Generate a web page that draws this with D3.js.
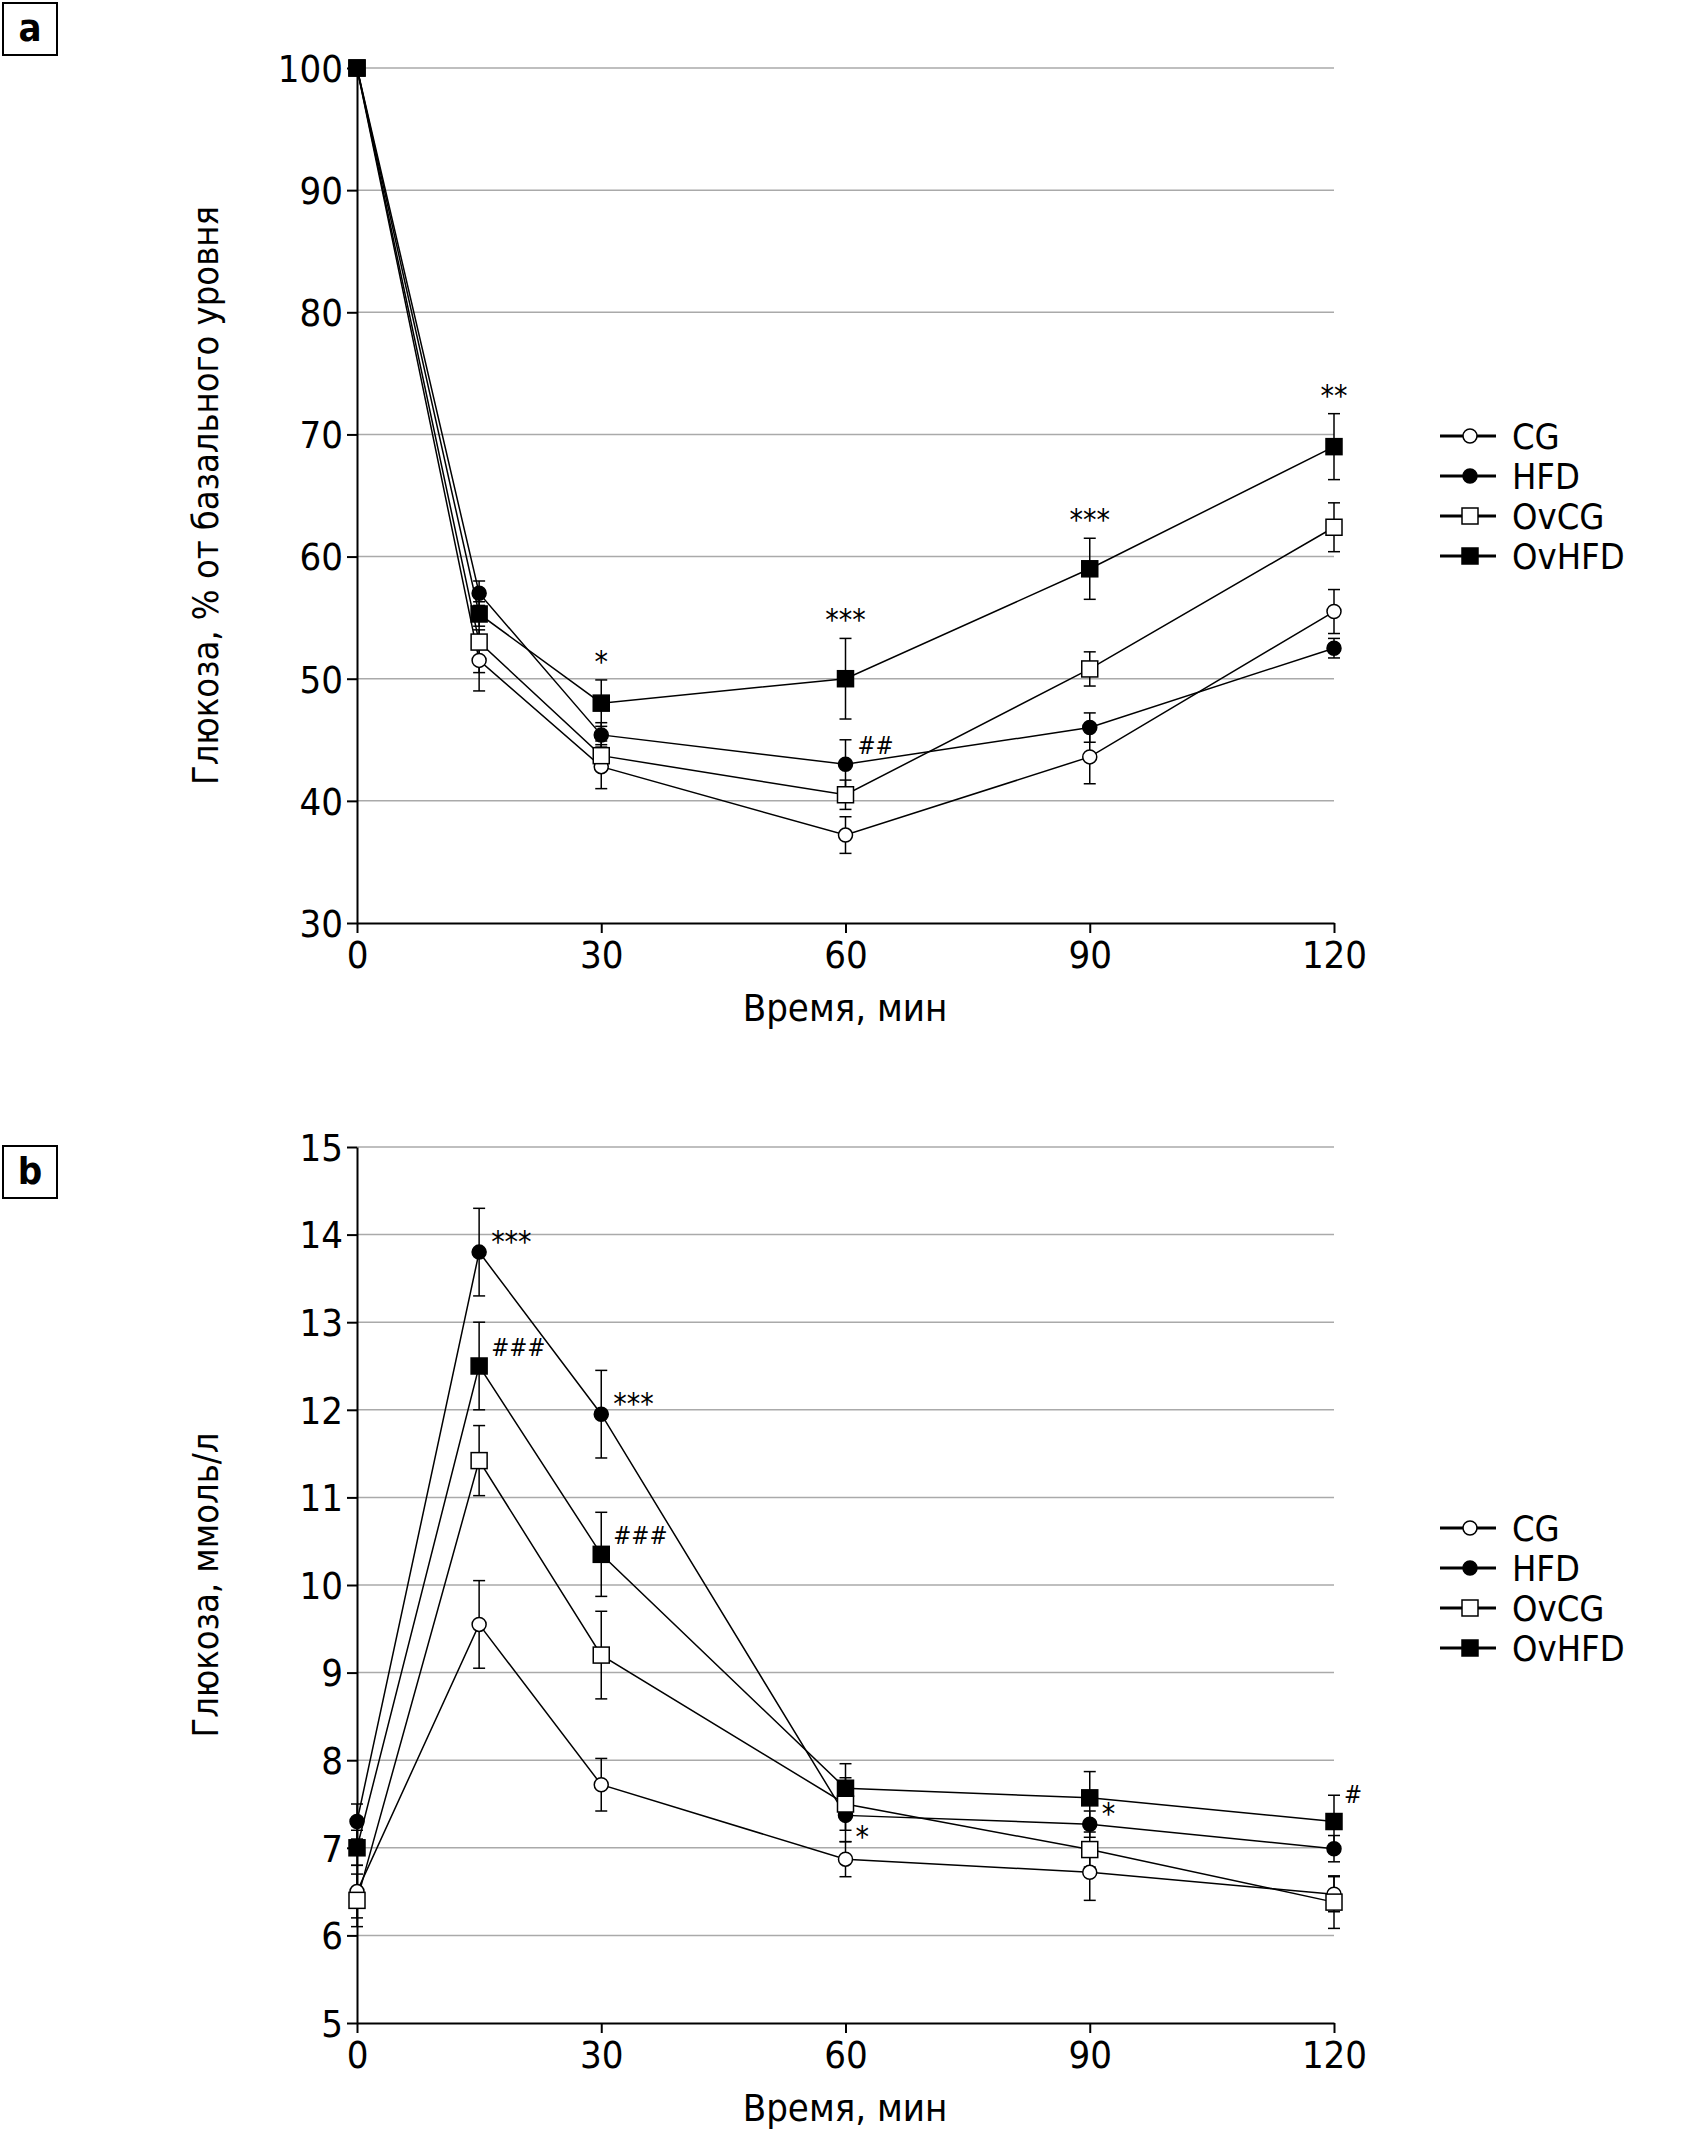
<!DOCTYPE html>
<html><head><meta charset="utf-8">
<script src="https://cdn.jsdelivr.net/npm/d3@7"></script>
<style>
body{margin:0;background:#fff}
text{font-family:"Liberation Sans Narrow","DejaVu Sans Condensed",sans-serif;fill:#000}
</style></head><body>
<svg id="c" width="1684" height="2138"></svg>
<script>
var times = [0, 15, 30, 60, 90, 120];
var groups = ["CG", "HFD", "OvCG", "OvHFD"];
var xTicks = [0, 30, 60, 90, 120];

// panel a: % of basal level
var aCG = [100, 51.5, 42.8, 37.2, 43.6, 55.5];
var aHFD = [100, 57, 45.4, 43, 46, 52.5];
var aOvCG = [100, 53, 43.7, 40.5, 50.8, 62.4];
var aOvHFD = [100, 55.3, 48, 50, 59, 69];
var aErrCG = [0, 2.5, 1.8, 1.5, 2.2, 1.8];
var aErrHFD = [0, 1, 1, 2, 1.2, 0.8];
var aErrOvCG = [0, 2.5, 1.2, 1.2, 1.4, 2];
var aErrOvHFD = [0, 1, 1.9, 3.3, 2.5, 2.7];
var aTicks = [30, 40, 50, 60, 70, 80, 90, 100];
var aMarks = [["OvHFD", 30, "*", "top"], ["OvHFD", 60, "***", "top"], ["HFD", 60, "##", "right"],
              ["OvHFD", 90, "***", "top"], ["OvHFD", 120, "**", "top"]];

// panel b: mmol/l
var bCG = [6.5, 9.55, 7.72, 6.87, 6.72, 6.47];
var bHFD = [7.3, 13.8, 11.95, 7.37, 7.27, 6.99];
var bOvCG = [6.4, 11.42, 9.2, 7.5, 6.98, 6.38];
var bOvHFD = [7.0, 12.5, 10.35, 7.68, 7.57, 7.3];
var bErrCG = [0.3, 0.5, 0.3, 0.2, 0.32, 0.2];
var bErrHFD = [0.2, 0.5, 0.5, 0.3, 0.15, 0.15];
var bErrOvCG = [0.3, 0.4, 0.5, 0.3, 0.2, 0.3];
var bErrOvHFD = [0.2, 0.5, 0.48, 0.28, 0.3, 0.3];
var bTicks = [5, 6, 7, 8, 9, 10, 11, 12, 13, 14, 15];
var bMarks = [["HFD", 15, "***", "right"], ["OvHFD", 15, "###", "right"], ["HFD", 30, "***", "right"],
              ["OvHFD", 30, "###", "right"], ["HFD", 60, "*", "below"], ["HFD", 90, "*", "right"],
              ["OvHFD", 120, "#", "topright"]];

var svg = d3.select("#c");

function marker(g, name, x, y) {
  if (name == "CG" || name == "HFD") {
    g.append("circle").attr("cx", x).attr("cy", y).attr("r", 7)
      .attr("fill", name == "CG" ? "#fff" : "#000").attr("stroke", "#000").attr("stroke-width", 1.5);
  } else {
    g.append("rect").attr("x", x - 8).attr("y", y - 8).attr("width", 16).attr("height", 16)
      .attr("fill", name == "OvCG" ? "#fff" : "#000").attr("stroke", "#000").attr("stroke-width", 1.5);
  }
}

function panel(label, top, bottom, boxY, domain, ticks, series, errs, marks, ylabel, legendY) {
  var x = d3.scaleLinear().domain([0, 120]).range([357, 1334]);
  var y = d3.scaleLinear().domain(domain).range([bottom, top]);
  var g = svg.append("g");

  // grid
  g.selectAll(".grid").data(ticks.slice(1)).join("line")
    .attr("x1", 357).attr("x2", 1334).attr("y1", d => y(d)).attr("y2", d => y(d))
    .attr("stroke", "#aaa").attr("stroke-width", 1.5);

  var ya = g.append("g").attr("transform", "translate(357,0)")
    .call(d3.axisLeft(y).tickValues(ticks).tickSize(10).tickSizeOuter(0));
  var xa = g.append("g").attr("transform", "translate(0," + bottom + ")")
    .call(d3.axisBottom(x).tickValues(xTicks).tickSize(10).tickSizeOuter(0));
  [ya, xa].forEach(function (a) {
    a.selectAll("path,line").attr("stroke", "#000").attr("stroke-width", 2);
    a.selectAll("text").style("font-size", "38px").attr("font-family", null);
  });
  ya.selectAll("text").attr("x", -14).attr("dy", "0.35em");
  xa.selectAll("text").attr("y", 16).attr("dy", "0.75em");

  g.append("text").attr("x", 845).attr("y", bottom + 98).attr("text-anchor", "middle")
    .style("font-size", "38px").text("Время, мин");
  g.append("text").attr("transform", "translate(218," + ((top + bottom) / 2) + ") rotate(-90)")
    .attr("text-anchor", "middle").style("font-size", "36px")
    .text(ylabel);

  // panel label box
  g.append("rect").attr("x", 3).attr("y", boxY).attr("width", 54).attr("height", 52)
    .attr("fill", "none").attr("stroke", "#000").attr("stroke-width", 2);
  g.append("text").attr("x", 30).attr("y", boxY + 38).attr("text-anchor", "middle")
    .style("font-size", "38px").style("font-weight", "bold").text(label);

  var line = d3.line().x((d, i) => x(times[i])).y(d => y(d));
  groups.forEach(function (name, k) {
    var vals = series[k], er = errs[k];
    g.append("path").attr("d", line(vals)).attr("fill", "none").attr("stroke", "#000").attr("stroke-width", 1.5);
    vals.forEach(function (v, i) {
      if (er[i] > 0) {
        var cx = x(times[i]);
        g.append("line").attr("x1", cx).attr("x2", cx).attr("y1", y(v - er[i])).attr("y2", y(v + er[i]))
          .attr("stroke", "#000").attr("stroke-width", 1.5);
        [v - er[i], v + er[i]].forEach(function (e) {
          g.append("line").attr("x1", cx - 6).attr("x2", cx + 6).attr("y1", y(e)).attr("y2", y(e))
            .attr("stroke", "#000").attr("stroke-width", 1.5);
        });
      }
    });
  });
  groups.forEach(function (name, k) {
    series[k].forEach(function (v, i) { marker(g, name, x(times[i]), y(v)); });
  });

  marks.forEach(function (m) {
    var k = groups.indexOf(m[0]), i = times.indexOf(m[1]);
    var v = series[k][i], cx = x(m[1]), t = g.append("text").text(m[2]);
    var small = m[2].indexOf("#") >= 0;
    t.style("font-size", small ? "24px" : "30px");
    if (m[3] == "top") {
      t.attr("x", cx).attr("y", y(v + errs[k][i]) - 8).attr("text-anchor", "middle");
    } else if (m[3] == "right") {
      t.attr("x", cx + 12).attr("y", y(v) - (small ? 10 : 0));
    } else if (m[3] == "below") {
      t.attr("x", cx + 10).attr("y", y(v) + 32);
    } else {
      t.attr("x", cx + 10).attr("y", y(v + errs[k][i]) + 8);
    }
  });

  // legend
  groups.forEach(function (name, k) {
    var ly = legendY + k * 40;
    g.append("line").attr("x1", 1440).attr("x2", 1496).attr("y1", ly).attr("y2", ly)
      .attr("stroke", "#000").attr("stroke-width", 3);
    marker(g, name, 1470, ly);
    g.append("text").attr("x", 1512).attr("y", ly + 13).style("font-size", "36px").text(name);
  });
}

panel("a", 68, 923, 3, [30, 100], aTicks, [aCG, aHFD, aOvCG, aOvHFD], [aErrCG, aErrHFD, aErrOvCG, aErrOvHFD],
  aMarks, "Глюкоза, % от базального уровня", 436);
panel("b", 1147, 2023, 1146, [5, 15], bTicks, [bCG, bHFD, bOvCG, bOvHFD], [bErrCG, bErrHFD, bErrOvCG, bErrOvHFD],
  bMarks, "Глюкоза, ммоль/л", 1528);
</script></body></html>
